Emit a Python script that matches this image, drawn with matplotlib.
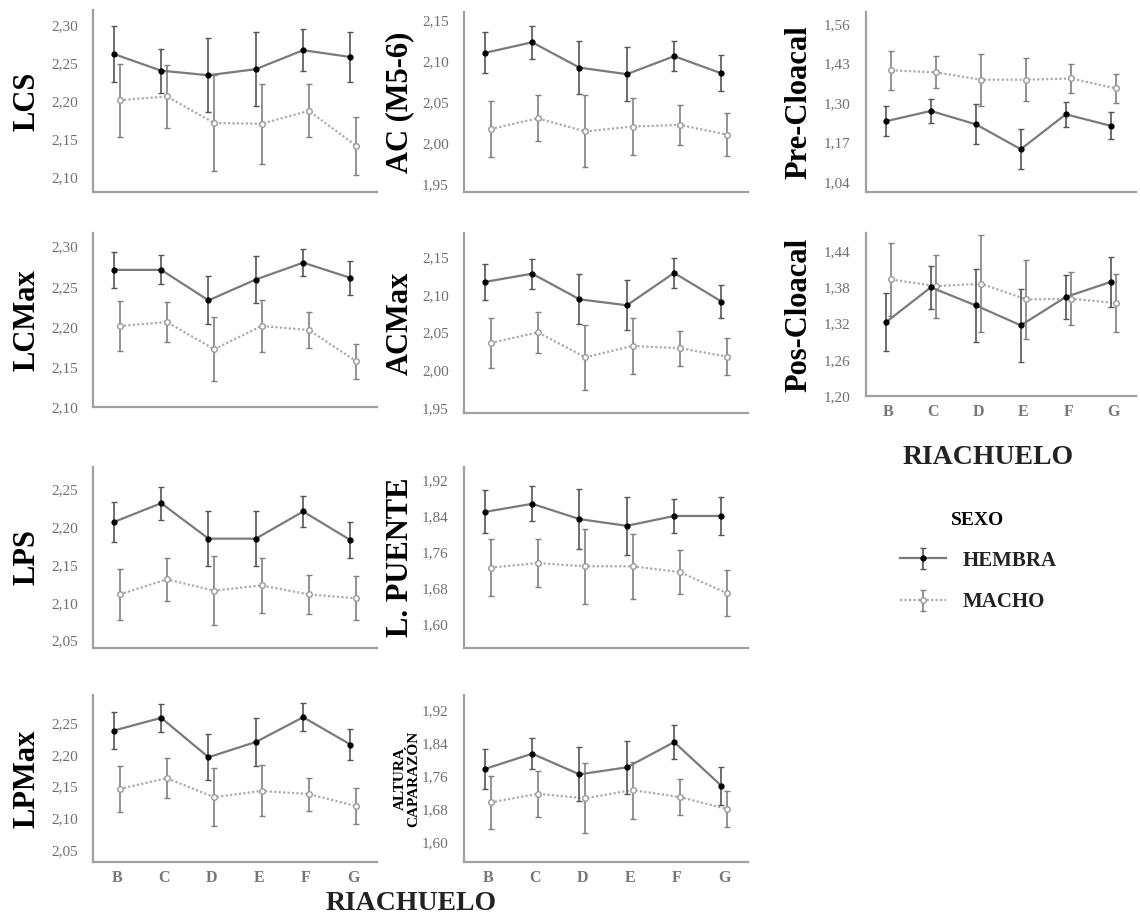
import matplotlib.pyplot as plt
from matplotlib.ticker import FuncFormatter

plt.rcParams['font.family'] = ['Liberation Serif', 'DejaVu Serif']

riachuelos = ['B', 'C', 'D', 'E', 'F', 'G']

# medias e intervalos (semi-amplitud) por sexo
lcs_h = [2.262, 2.240, 2.234, 2.242, 2.267, 2.258]
lcs_h_err = [0.037, 0.029, 0.049, 0.049, 0.028, 0.033]
lcs_m = [2.201, 2.206, 2.171, 2.170, 2.187, 2.141]
lcs_m_err = [0.048, 0.041, 0.063, 0.053, 0.035, 0.038]

ac_h = [2.110, 2.123, 2.092, 2.084, 2.106, 2.085]
ac_h_err = [0.025, 0.020, 0.032, 0.033, 0.018, 0.022]
ac_m = [2.017, 2.030, 2.014, 2.020, 2.022, 2.010]
ac_m_err = [0.034, 0.028, 0.044, 0.035, 0.024, 0.026]

pre_h = [1.240, 1.274, 1.230, 1.148, 1.263, 1.225]
pre_h_err = [0.050, 0.041, 0.066, 0.066, 0.041, 0.044]
pre_m = [1.408, 1.401, 1.377, 1.377, 1.381, 1.348]
pre_m_err = [0.064, 0.053, 0.086, 0.071, 0.047, 0.049]

lcmax_h = [2.271, 2.271, 2.233, 2.259, 2.280, 2.261]
lcmax_h_err = [0.022, 0.018, 0.030, 0.029, 0.017, 0.021]
lcmax_m = [2.201, 2.206, 2.172, 2.201, 2.196, 2.157]
lcmax_m_err = [0.031, 0.025, 0.040, 0.033, 0.022, 0.022]

acmax_h = [2.117, 2.128, 2.094, 2.086, 2.129, 2.091]
acmax_h_err = [0.024, 0.020, 0.033, 0.033, 0.020, 0.022]
acmax_m = [2.036, 2.050, 2.017, 2.032, 2.029, 2.018]
acmax_m_err = [0.033, 0.027, 0.043, 0.037, 0.023, 0.024]

pos_h = [1.322, 1.380, 1.350, 1.317, 1.364, 1.389]
pos_h_err = [0.048, 0.036, 0.061, 0.061, 0.036, 0.041]
pos_m = [1.393, 1.382, 1.386, 1.360, 1.361, 1.354]
pos_m_err = [0.060, 0.052, 0.080, 0.066, 0.044, 0.048]

lps_h = [2.207, 2.232, 2.185, 2.185, 2.221, 2.183]
lps_h_err = [0.026, 0.022, 0.036, 0.036, 0.021, 0.024]
lps_m = [2.111, 2.131, 2.116, 2.123, 2.111, 2.106]
lps_m_err = [0.034, 0.029, 0.046, 0.037, 0.026, 0.029]

lpuente_h = [1.850, 1.868, 1.834, 1.819, 1.841, 1.841]
lpuente_h_err = [0.048, 0.039, 0.066, 0.065, 0.037, 0.043]
lpuente_m = [1.726, 1.736, 1.729, 1.729, 1.716, 1.669]
lpuente_m_err = [0.063, 0.053, 0.083, 0.072, 0.049, 0.051]

lpmax_h = [2.238, 2.258, 2.196, 2.220, 2.259, 2.216]
lpmax_h_err = [0.029, 0.022, 0.036, 0.038, 0.022, 0.025]
lpmax_m = [2.146, 2.163, 2.133, 2.143, 2.138, 2.119]
lpmax_m_err = [0.036, 0.031, 0.046, 0.040, 0.026, 0.028]

altura_h = [1.777, 1.814, 1.764, 1.781, 1.842, 1.736]
altura_h_err = [0.049, 0.037, 0.065, 0.064, 0.042, 0.045]
altura_m = [1.696, 1.717, 1.706, 1.726, 1.709, 1.680]
altura_m_err = [0.065, 0.056, 0.085, 0.069, 0.043, 0.044]

W, H = 1140, 916


def rect(x0, x1, y0, y1):
    # caja en pixeles -> fraccion de figura
    return [x0 / W, 1 - y1 / H, (x1 - x0) / W, (y1 - y0) / H]


paneles = [
    ('LCS', lcs_h, lcs_h_err, lcs_m, lcs_m_err, (2.08, 2.32), [2.10, 2.15, 2.20, 2.25, 2.30], rect(93, 377, 10, 192), False),
    ('AC (M5-6)', ac_h, ac_h_err, ac_m, ac_m_err, (1.94, 2.16), [1.95, 2.00, 2.05, 2.10, 2.15], rect(464, 748, 12, 192), False),
    ('Pre-Cloacal', pre_h, pre_h_err, pre_m, pre_m_err, (1.007, 1.60), [1.04, 1.17, 1.30, 1.43, 1.56], rect(866, 1136, 12, 192), False),
    ('LCMax', lcmax_h, lcmax_h_err, lcmax_m, lcmax_m_err, (2.10, 2.317), [2.10, 2.15, 2.20, 2.25, 2.30], rect(93, 377, 233, 407), False),
    ('ACMax', acmax_h, acmax_h_err, acmax_m, acmax_m_err, (1.943, 2.182), [1.95, 2.00, 2.05, 2.10, 2.15], rect(464, 748, 233, 413), False),
    ('Pos-Cloacal', pos_h, pos_h_err, pos_m, pos_m_err, (1.20, 1.47), [1.20, 1.26, 1.32, 1.38, 1.44], rect(866, 1136, 233, 396), True),
    ('LPS', lps_h, lps_h_err, lps_m, lps_m_err, (2.04, 2.28), [2.05, 2.10, 2.15, 2.20, 2.25], rect(93, 377, 467, 648), False),
    ('L. PUENTE', lpuente_h, lpuente_h_err, lpuente_m, lpuente_m_err, (1.547, 1.95), [1.60, 1.68, 1.76, 1.84, 1.92], rect(464, 748, 467, 648), False),
    ('LPMax', lpmax_h, lpmax_h_err, lpmax_m, lpmax_m_err, (2.031, 2.294), [2.05, 2.10, 2.15, 2.20, 2.25], rect(93, 377, 695, 862), True),
    ('ALTURA\nCAPARAZÓN', altura_h, altura_h_err, altura_m, altura_m_err, (1.552, 1.956), [1.60, 1.68, 1.76, 1.84, 1.92], rect(464, 748, 695, 862), True),
]

fmt = FuncFormatter(lambda v, p: ('%.2f' % v).replace('.', ','))

fig = plt.figure(figsize=(W / 100, H / 100), dpi=100)
handles = None
for nombre, h, h_err, m, m_err, ylim, yticks, pos, con_x in paneles:
    ax = fig.add_axes(pos)
    xs = range(len(riachuelos))
    xh = [x - 0.06 for x in xs]
    xm = [x + 0.06 for x in xs]
    eh = ax.errorbar(xh, h, yerr=h_err, color='#7a7a7a', lw=1.6, ecolor='#555555', elinewidth=1.2,
                     capsize=2.5, capthick=1.0, marker='o', ms=3.5, mfc='black', mec='black', zorder=3)
    em = ax.errorbar(xm, m, yerr=m_err, color='#ababab', lw=1.6, ls=(0, (1.0, 1.0)), ecolor='#808080',
                     elinewidth=1.2, capsize=2.5, capthick=1.0, marker='o', ms=4, mfc='white', mec='#999999',
                     zorder=2)
    if handles is None:
        handles = [eh, em]
    ax.set_xlim(-0.5, 5.5)
    ax.set_ylim(*ylim)
    ax.set_yticks(yticks)
    ax.yaxis.set_major_formatter(fmt)
    ax.set_xticks(list(xs))
    if con_x:
        ax.set_xticklabels(riachuelos, fontsize=11.5, fontweight='bold', color='#777777')
    else:
        ax.set_xticklabels([])
    ax.tick_params(axis='y', length=0, pad=11, labelsize=11, labelcolor='#6e6e6e')
    ax.tick_params(axis='x', length=0, pad=6)
    for s in ['top', 'right']:
        ax.spines[s].set_visible(False)
    for s in ['left', 'bottom']:
        ax.spines[s].set_color('#a0a0a0')
        ax.spines[s].set_linewidth(1.6)
    x_lab = -0.225 if pos[0] > 0.3 else -0.232
    if pos[0] > 0.7:
        x_lab = -0.25
    if '\n' in nombre:
        ax.text(-0.20, 0.5, nombre, transform=ax.transAxes, rotation=90, ha='center', va='center',
                fontsize=11, fontweight='bold', linespacing=1.0)
    else:
        ax.text(x_lab, 0.5, nombre, transform=ax.transAxes, rotation=90, ha='center', va='center',
                fontsize=22, fontweight='bold')

fig.text(988 / W, 1 - 457 / H, 'RIACHUELO', ha='center', va='center', fontsize=20, fontweight='bold', color='#222222')
fig.text(411 / W, 1 - 903 / H, 'RIACHUELO', ha='center', va='center', fontsize=20, fontweight='bold', color='#222222')

leg = fig.legend(handles, ['HEMBRA', 'MACHO'], title='SEXO', loc='center', bbox_to_anchor=(978 / W, 1 - 562 / H),
                 frameon=False, prop={'size': 15, 'weight': 'bold'}, labelspacing=1.05, handlelength=2.2,
                 title_fontproperties={'size': 14, 'weight': 'bold'})
for t in leg.get_texts():
    t.set_color('#222222')

fig.savefig('out.png', dpi=100)
